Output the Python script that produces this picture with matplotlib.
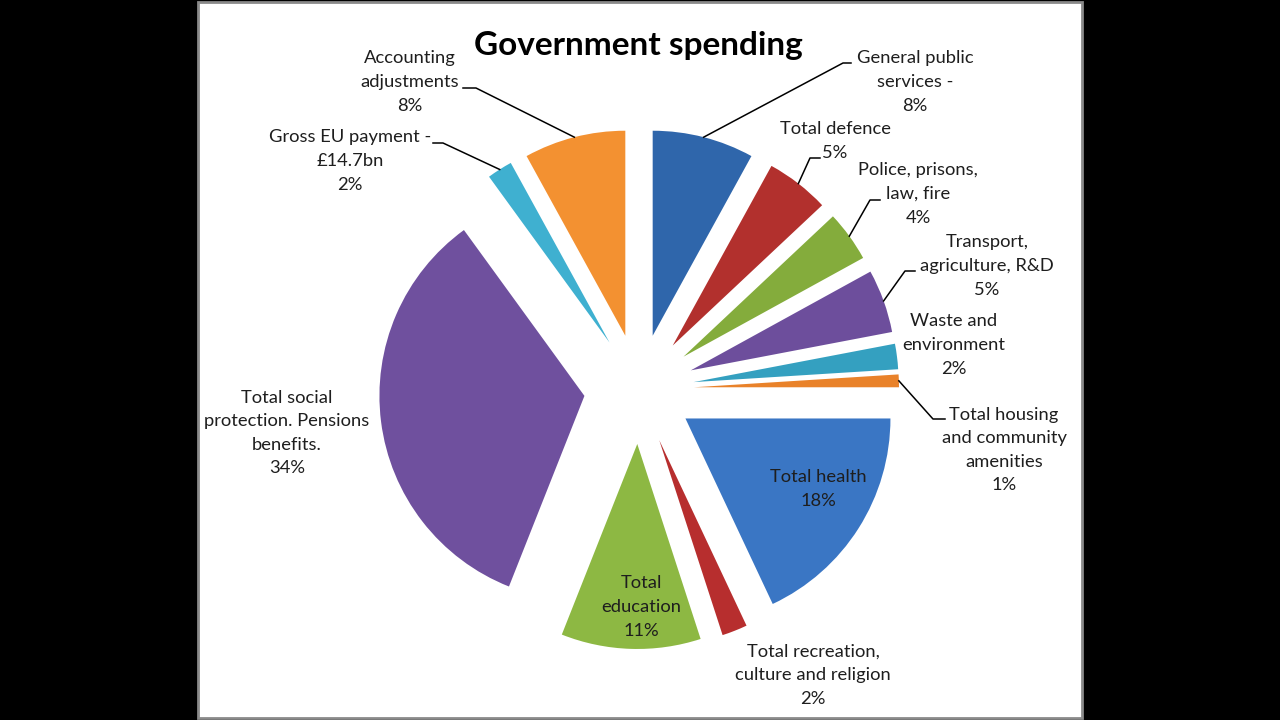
import numpy as np
import matplotlib.pyplot as plt
from matplotlib.patches import Rectangle

plt.rcParams['font.family'] = ['Lato', 'DejaVu Sans']

# data, clockwise from 12 o'clock
categories = ["General public\nservices -", "Total defence", "Police, prisons,\nlaw, fire",
              "Transport,\nagriculture, R&D", "Waste and\nenvironment",
              "Total housing\nand community\namenities", "Total health",
              "Total recreation,\nculture and religion", "Total\neducation",
              "Total social\nprotection. Pensions\nbenefits.", "Gross EU payment -\n£14.7bn",
              "Accounting\nadjustments"]
shares = [8, 5, 4, 5, 2, 1, 18, 2, 11, 34, 2, 8]

colors = ['#2f66ab', '#b2302d', '#84ac3c', '#6d4e9c', '#34a0c0', '#e9822a',
          '#3a76c4', '#b72e2e', '#8db843', '#6f509e', '#3fb0d0', '#f39131']

# label centres and leader elbows in pixel coords (y from top)
label_pos = [(915, 82), (835, 141), (918, 194), (987, 266), (954, 345), (1004, 450),
             (818, 489), (813, 675), (641, 607), (287, 433), (350, 161), (410, 82)]
leaders = [((843, 63), (851, 63)), ((810, 158), (820, 158)), ((870, 200), (880, 200)),
           ((905, 271), (915, 271)), None, ((933, 419), (945, 419)),
           None, None, None, None, ((443, 143), (433, 143)), ((476, 88), (463, 88))]

H = 720
fig = plt.figure(figsize=(12.8, 7.2), dpi=100, facecolor='black')
ax = fig.add_axes([0, 0, 1, 1])
ax.set_facecolor('black')

# white chart area
ax.add_patch(Rectangle((198, 2), 884, 716, facecolor='white', edgecolor='#8a8a8a',
                       linewidth=2, zorder=0))

center = (639, H - 389)
wedges, _ = ax.pie(shares, colors=colors, startangle=90, counterclock=False,
                   radius=205, center=center, explode=[55] * len(shares),
                   wedgeprops=dict(linewidth=0), frame=True)

for i, w in enumerate(wedges):
    w.set_zorder(2)
    text = f"{categories[i]}\n{shares[i]}%"
    lx, ly = label_pos[i]
    ax.text(lx, H - ly, text, ha='center', va='center', fontsize=13.2,
            color='#1e1e1e', linespacing=1.58, zorder=4)
    if leaders[i] is not None:
        mid = np.radians((w.theta1 + w.theta2) / 2)
        ax0 = w.center[0] + w.r * np.cos(mid)
        ay0 = w.center[1] + w.r * np.sin(mid)
        (ex, ey), (tx, ty) = leaders[i]
        ax.plot([ax0, ex, tx], [ay0, H - ey, H - ty], color='black', linewidth=1.1, zorder=3)

ax.text(638, H - 46, "Government spending", ha='center', va='center',
        fontsize=24, fontweight='bold', color='black', zorder=4)

ax.set_xlim(0, 1280)
ax.set_ylim(0, 720)
ax.set_aspect('equal')
ax.axis('off')

fig.savefig('out.png', dpi=100, facecolor='black')
